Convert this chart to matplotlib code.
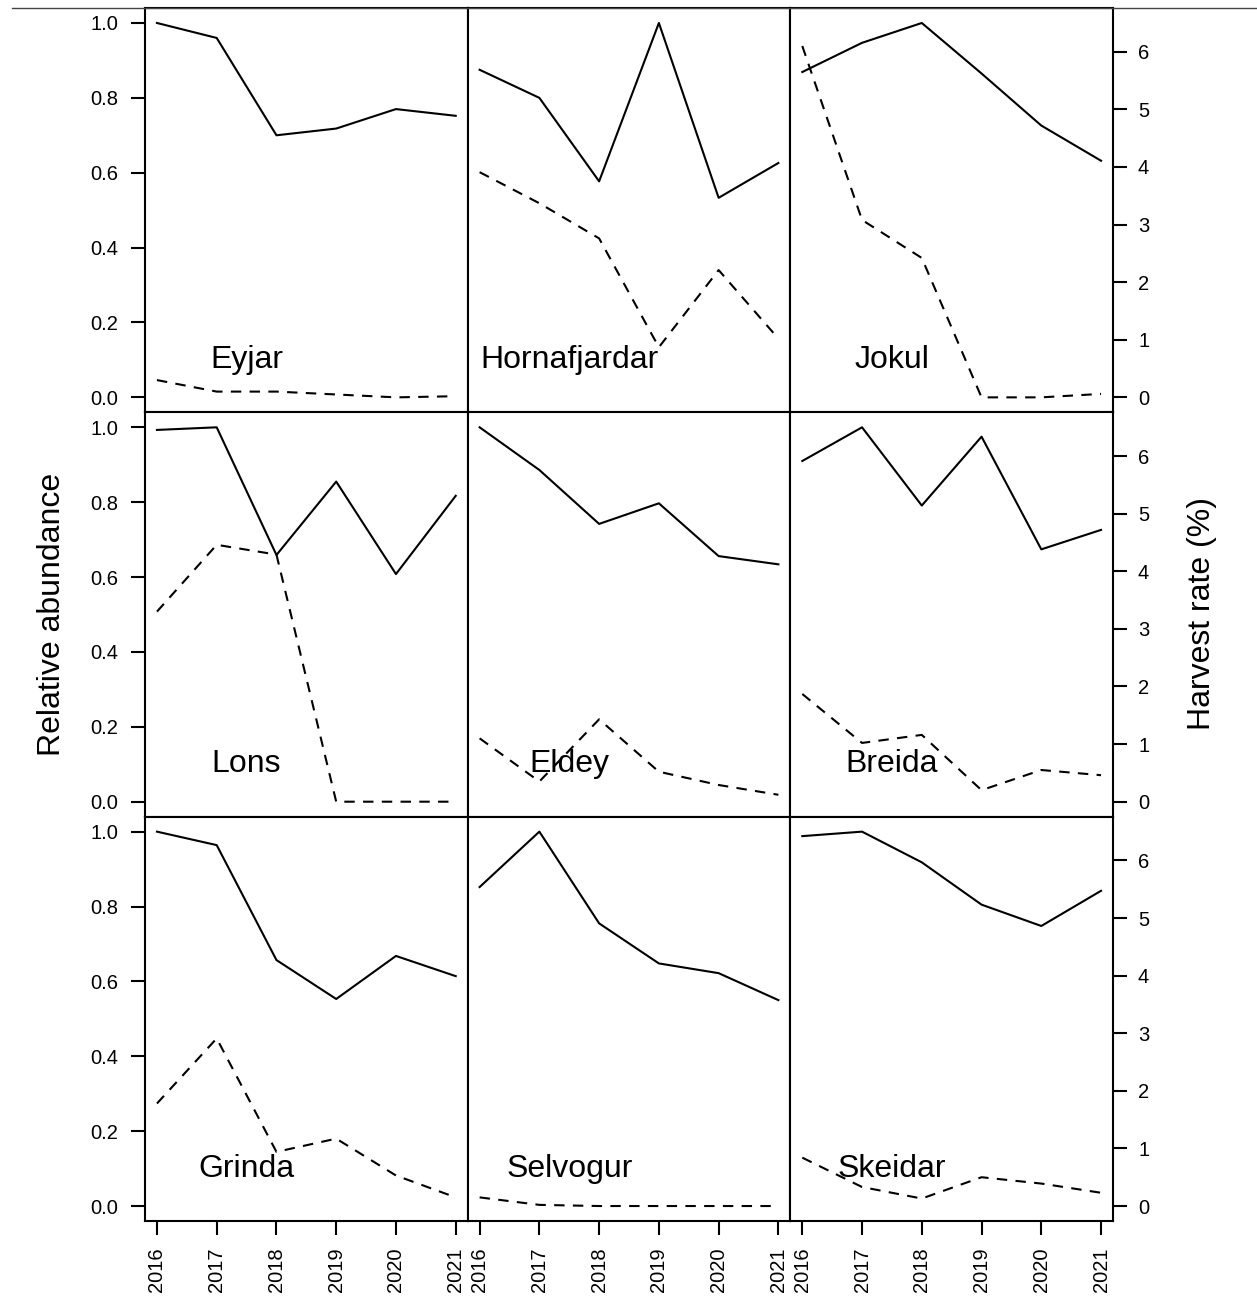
import matplotlib
matplotlib.use("Agg")
import matplotlib.pyplot as plt
from matplotlib.lines import Line2D

plt.rcParams['font.family'] = ['Liberation Sans', 'DejaVu Sans']

years = [2016, 2017, 2018, 2019, 2020, 2021]
sites = ["Eyjar", "Hornafjardar", "Jokul",
         "Lons", "Eldey", "Breida",
         "Grinda", "Selvogur", "Skeidar"]

# relative abundance (solid line, left axis)
abund_eyjar = [1.0, 0.96, 0.70, 0.718, 0.77, 0.752]
abund_horn = [0.875, 0.80, 0.577, 1.0, 0.533, 0.626]
abund_jokul = [0.869, 0.947, 1.0, 0.865, 0.726, 0.632]
abund_lons = [0.993, 1.0, 0.659, 0.855, 0.608, 0.817]
abund_eldey = [1.0, 0.886, 0.742, 0.797, 0.656, 0.634]
abund_breida = [0.91, 1.0, 0.791, 0.975, 0.674, 0.726]
abund_grinda = [1.0, 0.964, 0.657, 0.553, 0.668, 0.614]
abund_selv = [0.852, 1.0, 0.755, 0.648, 0.622, 0.55]
abund_skeid = [0.988, 1.0, 0.918, 0.805, 0.748, 0.842]

# harvest rate in % (dashed line, right axis)
harv_eyjar = [0.30, 0.10, 0.10, 0.05, 0.0, 0.02]
harv_horn = [3.91, 3.37, 2.76, 0.87, 2.21, 1.02]
harv_jokul = [6.10, 3.08, 2.42, 0.0, 0.0, 0.06]
harv_lons = [3.30, 4.46, 4.29, 0.0, 0.0, 0.0]
harv_eldey = [1.10, 0.35, 1.43, 0.52, 0.29, 0.12]
harv_breida = [1.87, 1.02, 1.16, 0.20, 0.55, 0.46]
harv_grinda = [1.78, 2.91, 0.94, 1.17, 0.53, 0.15]
harv_selv = [0.15, 0.02, 0.0, 0.0, 0.0, 0.0]
harv_skeid = [0.84, 0.33, 0.13, 0.50, 0.39, 0.23]

abund = [abund_eyjar, abund_horn, abund_jokul, abund_lons, abund_eldey,
         abund_breida, abund_grinda, abund_selv, abund_skeid]
harv = [harv_eyjar, harv_horn, harv_jokul, harv_lons, harv_eldey,
        harv_breida, harv_grinda, harv_selv, harv_skeid]

W, H = 1257, 1296
fig = plt.figure(figsize=(W / 100, H / 100), dpi=100)

# panel grid in pixels
x0, x1 = 145, 1113
y0, y1 = 8, 1221
cw = (x1 - x0) / 3
rh = (y1 - y0) / 3

tick_fs = 14.5
lab_fs = 23

for i in range(9):
    r, c = divmod(i, 3)
    ax = fig.add_axes([(x0 + c * cw) / W, 1 - (y0 + (r + 1) * rh) / H, cw / W, rh / H])
    ax2 = ax.twinx()
    ax.plot(years, abund[i], color="black", lw=1.5)
    ax2.plot(years, harv[i], color="black", lw=1.5, dashes=(5, 4))
    ax.set_xlim(2015.8, 2021.2)
    ax.set_ylim(-0.04, 1.04)
    ax2.set_ylim(-0.26, 6.76)
    ax.text(2017.5, 0.1, sites[i], ha="center", va="center", fontsize=lab_fs)

    for sp in ax.spines.values():
        sp.set_linewidth(1.5)
    for sp in ax2.spines.values():
        sp.set_visible(False)

    ax.set_xticks(years)
    ax.set_yticks([0, 0.2, 0.4, 0.6, 0.8, 1.0])
    ax.set_yticklabels(["0.0", "0.2", "0.4", "0.6", "0.8", "1.0"])
    ax2.set_yticks(range(7))
    ax.tick_params(direction="out", length=10, width=1.5, labelsize=tick_fs)
    ax2.tick_params(direction="out", length=10, width=1.5, labelsize=tick_fs, pad=8)
    ax.tick_params(axis="y", pad=9)
    ax.tick_params(axis="x", pad=9, labelrotation=90)

    if c != 0:
        ax.tick_params(axis="y", left=False, labelleft=False)
    if c != 2:
        ax2.tick_params(axis="y", right=False, labelright=False)
    if r != 2:
        ax.tick_params(axis="x", bottom=False, labelbottom=False)

fig.text(52 / W, 1 - 614 / H, "Relative abundance", rotation=90,
         ha="center", va="center", fontsize=lab_fs)
fig.text(1202 / W, 1 - 614 / H, "Harvest rate (%)", rotation=90,
         ha="center", va="center", fontsize=lab_fs)

# thin rule across the top of the page
fig.add_artist(Line2D([12 / W, 1.0], [1 - 8 / H, 1 - 8 / H],
                      transform=fig.transFigure, color="#444444", lw=1.0))

fig.savefig("out.png", dpi=100)
